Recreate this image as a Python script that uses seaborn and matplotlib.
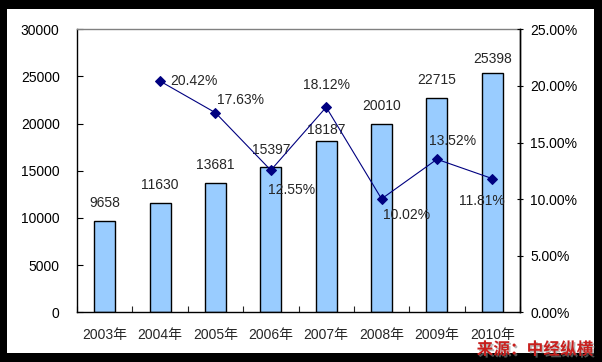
import matplotlib
matplotlib.use("Agg")
import matplotlib.pyplot as plt
import matplotlib.patheffects as pe
from matplotlib.patches import Rectangle
from matplotlib.ticker import FuncFormatter, MultipleLocator
import numpy as np
import pandas as pd
import seaborn as sns

years = ["2003年", "2004年", "2005年", "2006年", "2007年", "2008年", "2009年", "2010年"]
values = [9658, 11630, 13681, 15397, 18187, 20010, 22715, 25398]
growth = [None, 20.42, 17.63, 12.55, 18.12, 10.02, 13.52, 11.81]
source_text = "来源：中经纵横"

# label layout (pixels)
bar_label_gap = [11, 11, 11, 10, 4, 11, 11, 7]
line_label_offsets = [None, (10, 0, "left"), (2, 13, "left"), (-3, -20, "left"),
                      (0, 22, "center"), (1, -16, "left"), (16, 18, "center"), (-10, -22, "center")]

sns.set_style("white")
plt.rcParams["font.family"] = ["Liberation Sans", "Noto Sans CJK SC", "DejaVu Sans"]

W, H = 602, 362
fig = plt.figure(figsize=(W / 100, H / 100), dpi=100)
fig.patch.set_facecolor("black")
fig.patches.append(Rectangle((7 / W, 9 / H), (594 - 7) / W, (353 - 9) / H,
                             transform=fig.transFigure, facecolor="white",
                             edgecolor="none", zorder=-10))

ax = fig.add_axes([77 / W, 1 - 312.3 / H, (520 - 77) / W, (312.3 - 29.3) / H])
ax.set_facecolor("none")

df = pd.DataFrame({"year": years, "value": values})
sns.barplot(data=df, x="year", y="value", ax=ax, color="#99CCFF",
            edgecolor="black", linewidth=1.0, width=0.38, saturation=1)

ax.set_ylim(0, 30000)
ax.set_xlim(-0.5, len(years) - 0.5)
ax.yaxis.set_major_locator(MultipleLocator(5000))
ax.set_xlabel("")
ax.set_ylabel("")
ax.tick_params(axis="y", direction="in", length=4, width=0.8, pad=12.5,
               labelsize=10, left=True, colors="black")
ax.tick_params(axis="x", which="major", length=0, pad=11, labelsize=10)
ax.set_xticks(np.arange(len(years) + 1) - 0.5, minor=True)
ax.tick_params(axis="x", which="minor", direction="in", length=4, width=0.8, bottom=True)

for s in ["left", "bottom", "right"]:
    ax.spines[s].set_color("black")
    ax.spines[s].set_linewidth(1.0)
ax.spines["top"].set_color("#808080")
ax.spines["top"].set_linewidth(1.0)

for i, (v, g) in enumerate(zip(values, bar_label_gap)):
    ax.annotate(f"{v}", (i, v), xytext=(0, g), textcoords="offset pixels",
                ha="center", va="bottom", fontsize=10)

ax2 = ax.twinx()
xs = np.arange(len(years))[1:]
gvals = np.array(growth[1:], dtype=float)
sns.lineplot(x=xs, y=gvals, ax=ax2, color="#000080", linewidth=0.8,
             marker="D", markersize=5, markeredgecolor="#000080")
ax2.set_ylim(0, 25)
ax2.yaxis.set_major_locator(MultipleLocator(5))
ax2.yaxis.set_major_formatter(FuncFormatter(lambda v, p: f"{v:.2f}%"))
ax2.tick_params(axis="y", direction="inout", length=5, width=0.8, pad=5,
                labelsize=10, right=True, colors="black")
ax2.set_ylabel("")
for s in ax2.spines.values():
    s.set_visible(False)
ax2.spines["right"].set_visible(True)
ax2.spines["right"].set_color("black")
ax2.spines["right"].set_linewidth(1.0)

for x, g, off in zip(xs, gvals, line_label_offsets[1:]):
    dx, dy, ha = off
    ax2.annotate(f"{g:.2f}%", (x, g), xytext=(dx, dy), textcoords="offset pixels",
                 ha=ha, va="center", fontsize=10)

fig.text(593 / W, 1 - 349.5 / H, source_text, ha="right", va="center",
         fontsize=12, fontweight="bold", color="#C8201E",
         family=["Noto Sans CJK SC", "DejaVu Sans"],
         path_effects=[pe.withSimplePatchShadow(offset=(1.2, -1.2),
                                                shadow_rgbFace="#888888", alpha=0.6)])

fig.savefig("out.png", dpi=100, facecolor=fig.get_facecolor())
